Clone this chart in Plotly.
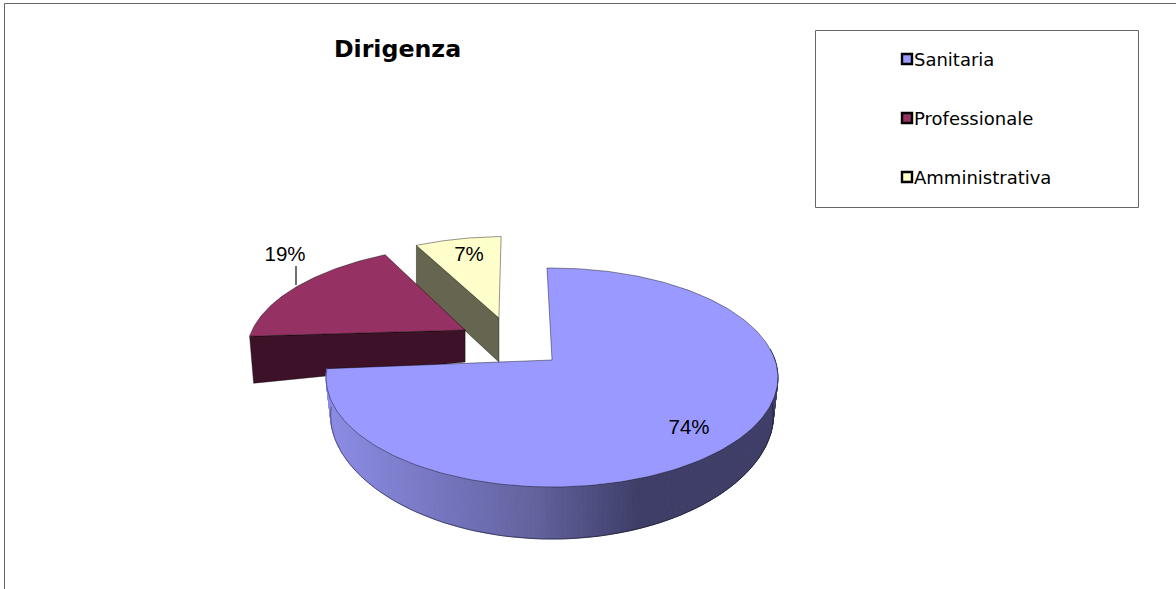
import math
import plotly.graph_objects as go

categories = ["Sanitaria", "Professionale", "Amministrativa"]
values = [74, 19, 7]
top_colors = ["#9999ff", "#953163", "#ffffcc"]
side_colors = [None, "#3d1228", "#666650"]

W, H = 1176, 589
APEX = (552.0, 360.0)     # screen position of the pie centre
A, B, K = 223.0, 106.7, 0.16   # perspective projection of the unit disc
START = -1.5              # degrees
EXPLODE = [(0.0, 0.0), (-0.408, 0.294), (-0.254, 0.42)]
RADIAL_DEPTH = [None, (32, 47), (44, 40)]
SPAN_TWEAK = [(0.0, 0.5), (1.5, -2.0), (-2.0, 0.0)]   # perspective distortion of the slice edges
LABEL_POS = [(689, 428.5), (285, 255.5), (469, 256)]
EDGE = "rgba(0,0,0,0.6)"


def project(X, Y):
    w = 1 + K * Y
    return APEX[0] + A * X / w, APEX[1] - B * Y / w


def disc_point(theta, off=(0.0, 0.0), r=1.0):
    t = math.radians(theta)
    return r * math.sin(t) + off[0], r * math.cos(t) + off[1]


def lerp(a, b, t):
    return a + (b - a) * t


def shade(x):
    stops = [(331, (0x8c, 0x8c, 0xe6)), (533, (0x63, 0x63, 0x9f)), (637, (0x3e, 0x3e, 0x68)), (780, (0x3e, 0x3e, 0x68))]
    for (x0, c0), (x1, c1) in zip(stops, stops[1:]):
        if x <= x1:
            t = max(0.0, (x - x0) / (x1 - x0))
            return "rgb(%d,%d,%d)" % tuple(round(lerp(p, q, t)) for p, q in zip(c0, c1))
    return "rgb(62,62,104)"


# slice angles come from the values
total = sum(values)
spans = []
a = START
for v, tw in zip(values, SPAN_TWEAK):
    end = a + 360.0 * v / total
    spans.append((a + tw[0], end + tw[1]))
    a = end

fig = go.Figure()


def poly(xs, ys, fill, line=None, lw=0.0, name=None):
    fig.add_trace(go.Scatter(
        x=xs, y=ys, mode="lines", fill="toself", fillcolor=fill,
        line=dict(color=line or fill, width=lw), hoverinfo="skip", showlegend=False, name=name))


def arc_pts(i, n=90):
    s, e = spans[i]
    return [project(*disc_point(lerp(s, e, j / n), EXPLODE[i])) for j in range(n + 1)]


# drawn back to front: Amministrativa, Professionale, Sanitaria
for i in (2, 1):
    s, e = spans[i]
    ax, ay = project(*EXPLODE[i])
    ox, oy = project(*disc_point(s, EXPLODE[i]))
    d_in, d_out = RADIAL_DEPTH[i]
    shift = 4 if i == 1 else 0
    poly([ax, ox, ox + shift, ax, ax], [ay, oy, oy + d_out, ay + d_in, ay], side_colors[i], EDGE, 0.7)
    pts = arc_pts(i)
    poly([ax] + [p[0] for p in pts] + [ax], [ay] + [p[1] for p in pts] + [ay], top_colors[i], EDGE, 0.7)

# Sanitaria wall, a band of small shaded panels along the rim
s0, e0 = spans[0]
wall_start = max(s0, 84.0)
N = 160


def wall(theta):
    X, Y = disc_point(theta)
    x, y = project(X, Y)
    return x, y, APEX[0] + (x - APEX[0]) * 0.98, y + 38 + 14 * Y * Y


for j in range(N):
    t0, t1 = lerp(wall_start, e0, j / N), lerp(wall_start, e0, (j + 1) / N)
    a0, a1 = wall(t0), wall(t1)
    poly([a0[0], a1[0], a1[2], a0[2], a0[0]], [a0[1], a1[1], a1[3], a0[3], a0[1]],
         shade((a0[2] + a1[2]) / 2), None, 1.0)

rim = [wall(lerp(wall_start, e0, j / 120)) for j in range(121)]
fig.add_trace(go.Scatter(x=[r[2] for r in rim], y=[r[3] for r in rim], mode="lines",
                         line=dict(color=EDGE, width=0.7), hoverinfo="skip", showlegend=False))

pts = arc_pts(0, 240)
poly([APEX[0]] + [p[0] for p in pts] + [APEX[0]], [APEX[1]] + [p[1] for p in pts] + [APEX[1]],
     top_colors[0], EDGE, 0.7)

# 19% leader line
fig.add_trace(go.Scatter(x=[296, 296], y=[266, 285], mode="lines", line=dict(color="#111111", width=1.2),
                         hoverinfo="skip", showlegend=False))

# percentage labels, derived from values
fig.add_trace(go.Scatter(
    x=[p[0] for p in LABEL_POS], y=[p[1] for p in LABEL_POS], mode="text",
    text=[f"{round(100 * v / total)}%" for v in values], textposition="middle center",
    textfont=dict(family="Liberation Sans", size=20.5, color="#000000"), hoverinfo="skip", showlegend=False))

# legend entries
LEGEND_X, LEGEND_Y = 907, [59, 118, 177]
for cat, col, y in zip(categories, top_colors, LEGEND_Y):
    fig.add_trace(go.Scatter(
        x=[LEGEND_X], y=[y], mode="markers", name=cat,
        marker=dict(symbol="square", size=10, color=col, line=dict(color="#000000", width=2.4)),
        hoverinfo="name", showlegend=False))
    fig.add_trace(go.Scatter(
        x=[LEGEND_X + 7], y=[y + 2], mode="text", text=[cat], textposition="middle right",
        textfont=dict(family="DejaVu Sans", size=18, color="#000000"),
        hoverinfo="skip", showlegend=False))

fig.update_layout(
    width=W, height=H, margin=dict(l=0, r=0, t=0, b=0),
    paper_bgcolor="#ffffff", plot_bgcolor="#ffffff", showlegend=False,
    title=dict(text="<b>Dirigenza</b>", x=397.5 / W, xanchor="center", y=1 - 49 / H, yanchor="middle",
               font=dict(family="DejaVu Sans", size=23.7, color="#000000")),
    xaxis=dict(range=[0, W], visible=False, fixedrange=True),
    yaxis=dict(range=[H, 0], visible=False, fixedrange=True),
    shapes=[
        dict(type="rect", xref="x", yref="y", x0=815.5, x1=1138.5, y0=30.5, y1=207.5,
             line=dict(color="#666666", width=1), fillcolor="rgba(0,0,0,0)", layer="below"),
        dict(type="line", xref="x", yref="y", x0=4.5, x1=4.5, y0=3.5, y1=589, line=dict(color="#666666", width=1)),
        dict(type="line", xref="x", yref="y", x0=4.5, x1=1176, y0=3.5, y1=3.5, line=dict(color="#666666", width=1)),
    ],
)

fig.write_html("out.html", config={"displayModeBar": False}, post_script="document.body.style.margin='0';document.body.style.overflow='hidden';")
